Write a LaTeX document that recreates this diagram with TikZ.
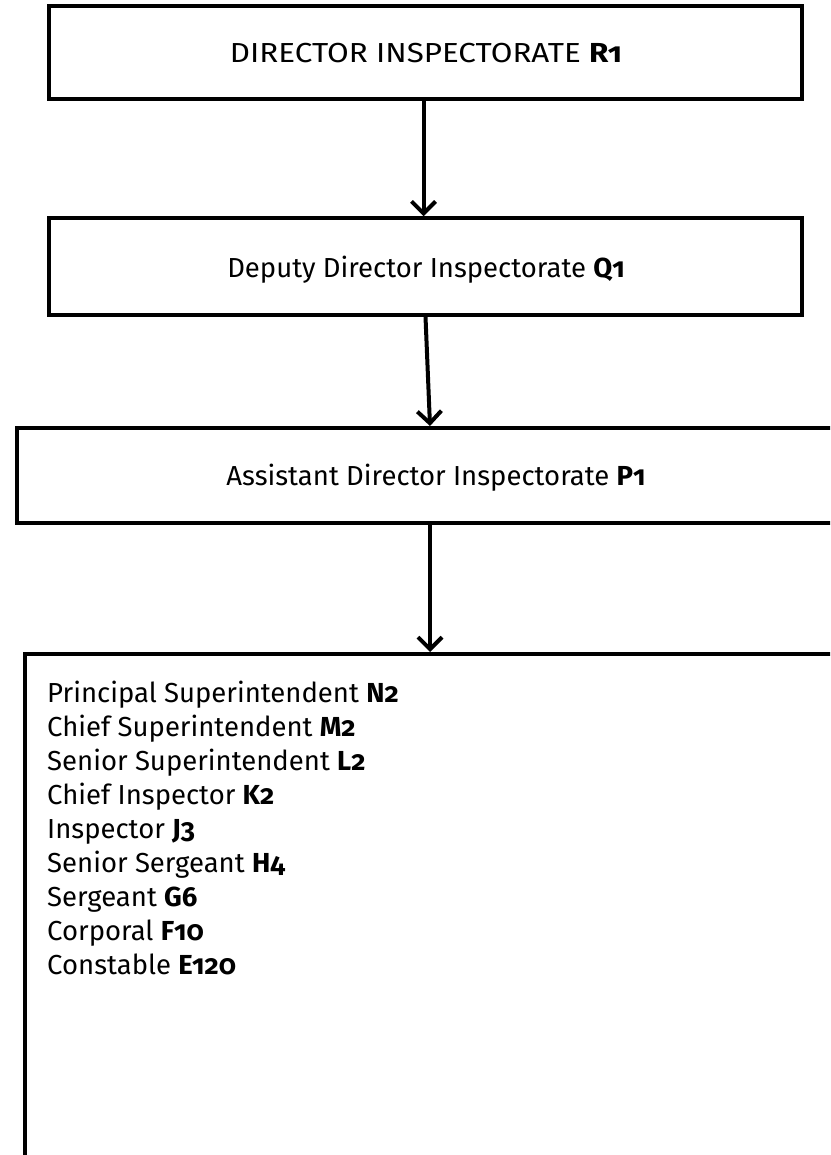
\documentclass[tikz,border=0pt]{standalone}
\usepackage{fontspec}
\setmainfont{Fira Sans}[Numbers=OldStyle]
\usetikzlibrary{arrows.meta}

\tikzset{
  frame/.style={draw=black, line width=3.5pt, rectangle, inner sep=0pt, fill=white},
  label/.style={font=\fontsize{27.5}{34}\selectfont, text=black, inner sep=0pt},
  boxlabel/.style={label, anchor=base},
  rank/.style={label, anchor=base west},
  arr/.style={draw=black, line width=4pt,
    -{Straight Barb[length=12pt, width=24pt, line width=4pt]}},
}

\begin{document}
\begin{tikzpicture}[x=1pt, y=-1pt]
  \useasboundingbox (0,0) rectangle (830,1155);
  \clip (0,0) rectangle (830,1155);
  \fill[white] (0,0) rectangle (830,1155);

  % level boxes
  \node[frame, minimum width=753pt, minimum height=93pt] (b1) at (425.5,52.5) {};
  \node[boxlabel] (t1) at (426,63) {\scalebox{1.14}[1]{DIRECTOR INSPECTORATE \textbf{R1}}};

  \node[frame, minimum width=753pt, minimum height=97pt] (b2) at (425.5,266.5) {};
  \node[boxlabel] (t2) at (426,277) {Deputy Director Inspectorate \textbf{Q1}};

  \node[frame, minimum width=840pt, minimum height=95pt, anchor=north west] (b3) at (15,426) {};
  \node[boxlabel] (t3) at (436,485) {Assistant Director Inspectorate \textbf{P1}};

  \node[frame, minimum width=840pt, minimum height=540pt, anchor=north west] (b4) at (23,652) {};

  % ranks listed in the bottom box
  \foreach \txt [count=\i] in {%
      {Principal Superintendent \textbf{N2}},
      {Chief Superintendent \textbf{M2}},
      {Senior Superintendent \textbf{L2}},
      {Chief Inspector \textbf{K2}},
      {Inspector \textbf{J3}},
      {Senior Sergeant \textbf{H4}},
      {Sergeant \textbf{G6}},
      {Corporal \textbf{F10}},
      {Constable \textbf{E120}}}
    \node[rank] (r\i) at (47, {702 + 34*(\i-1)}) {\txt};

  % connectors
  \draw[arr] ([xshift=-2pt]b1.south) -- ([xshift=-2pt]b2.north);
  \draw[arr] ([xshift=0pt]b2.south) -- ([xshift=415pt]b3.north west);
  \draw[arr] ([xshift=415pt]b3.south west) -- ([xshift=407pt]b4.north west);
\end{tikzpicture}
\end{document}
